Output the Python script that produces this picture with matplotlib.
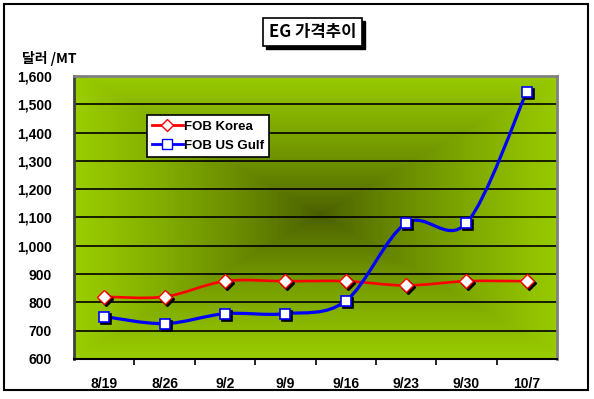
import numpy as np
import matplotlib
matplotlib.use("Agg")
import matplotlib.pyplot as plt
from matplotlib.path import Path
from matplotlib.patches import PathPatch, Rectangle
from matplotlib.lines import Line2D
import matplotlib.transforms as mtrans

plt.rcParams['font.family'] = ['Liberation Sans', 'Noto Sans CJK KR', 'DejaVu Sans']

# data
dates = ['8/19', '8/26', '9/2', '9/9', '9/16', '9/23', '9/30', '10/7']
fob_korea = [820, 820, 875, 875, 875, 860, 875, 875]
fob_usgulf = [750, 725, 760, 760, 805, 1080, 1080, 1545]
yticks = list(range(600, 1700, 100))

W, H = 594, 399
fig = plt.figure(figsize=(W / 100, H / 100), dpi=100)

def fx(px):
    return px / W

def fy(py):
    return 1 - py / H

# outer frame
fig.add_artist(Rectangle((fx(4), fy(390)), fx(588) - fx(4), fy(4) - fy(390),
                         transform=fig.transFigure, fill=False, ec='black', lw=1.5))

ax = fig.add_axes([fx(74), fy(359), fx(557) - fx(74), fy(76) - fy(359)])

# rectangular "from centre" gradient like Excel
n = 200
gx = np.linspace(-1, 1, n)
gy = np.linspace(-1, 1, n)
XX, YY = np.meshgrid(gx, gy)
d = np.maximum(np.abs(XX - 0.02), np.abs(YY + 0.02))
d = np.clip(d, 0, 1) ** 0.8
inner = np.array([72, 92, 0]) / 255
outer = np.array([153, 204, 0]) / 255
img = inner[None, None, :] * (1 - d[..., None]) + outer[None, None, :] * d[..., None]
ax.imshow(img, extent=[0, 1, 0, 1], transform=ax.transAxes, aspect='auto',
          zorder=0, interpolation='nearest')

ax.set_xlim(-0.5, len(dates) - 0.5)
ax.set_ylim(600, 1600)

for v in yticks[1:-1]:
    ax.axhline(v, color='black', lw=1.2, zorder=1)

def smooth_path(ys):
    xs = np.arange(len(ys), dtype=float)
    pts = np.column_stack([xs, np.array(ys, dtype=float)])
    verts = [pts[0]]
    codes = [Path.MOVETO]
    for i in range(len(pts) - 1):
        p0 = pts[i - 1] if i > 0 else pts[i]
        p1 = pts[i]
        p2 = pts[i + 1]
        p3 = pts[i + 2] if i + 2 < len(pts) else pts[i + 1]
        c1 = p1 + (p2 - p0) / 6
        c2 = p2 - (p3 - p1) / 6
        verts += [c1, c2, p2]
        codes += [Path.CURVE4] * 3
    return Path(verts, codes)

x = np.arange(len(dates))
shadow = mtrans.offset_copy(ax.transData, fig=fig, x=2, y=-2, units='dots')

ax.add_patch(PathPatch(smooth_path(fob_korea), fill=False, ec='#ff0000', lw=1.9, zorder=3,
                       capstyle='butt'))
ax.add_patch(PathPatch(smooth_path(fob_usgulf), fill=False, ec='#0000ff', lw=2.3, zorder=3,
                       capstyle='butt'))

ax.plot(x, fob_korea, ls='none', marker='D', ms=7, mfc='black', mec='black', mew=1,
        transform=shadow, zorder=4)
ax.plot(x, fob_korea, ls='none', marker='D', ms=7, mfc='white', mec='#ff0000', mew=1,
        zorder=5)
ax.plot(x, fob_usgulf, ls='none', marker='s', ms=7.5, mfc='black', mec='black', mew=1.2,
        transform=shadow, zorder=4)
ax.plot(x, fob_usgulf, ls='none', marker='s', ms=7.5, mfc='white', mec='#0000ff', mew=1.2,
        zorder=5)

# axes styling
for s in ['top', 'right']:
    ax.spines[s].set_color('#808080')
    ax.spines[s].set_linewidth(2)
ax.spines['left'].set_color('#404040')
ax.spines['left'].set_linewidth(2)
ax.spines['bottom'].set_color('black')
ax.spines['bottom'].set_linewidth(1.5)

ax.set_yticks(yticks)
ax.set_yticklabels([f'{v:,}' for v in yticks], fontsize=10, fontweight='bold')
ax.tick_params(axis='y', length=0, pad=16)
ax.set_xticks(x)
ax.set_xticklabels(dates, fontsize=10, fontweight='bold')
ax.tick_params(axis='x', which='major', length=0, pad=13)
ax.set_xticks(np.arange(0.5, len(dates) - 0.5, 1), minor=True)
ax.tick_params(axis='x', which='minor', length=4, width=1.2, direction='out', color='black')

# legend
handles = [
    Line2D([], [], color='#ff0000', lw=2, marker='D', ms=6, mfc='white', mec='#ff0000'),
    Line2D([], [], color='#0000ff', lw=2, marker='s', ms=6.5, mfc='white', mec='#0000ff'),
]
leg = ax.legend(handles, ['FOB Korea', 'FOB US Gulf'], loc='upper left',
                bbox_to_anchor=(fx(147), fy(115)), bbox_transform=fig.transFigure,
                frameon=True, fancybox=False, framealpha=1, edgecolor='black',
                prop={'weight': 'bold', 'size': 9.5}, handlelength=2.3, handletextpad=0.1,
                borderpad=0.4, labelspacing=0.55, borderaxespad=0)
leg.get_frame().set_linewidth(1.2)
leg.set_zorder(10)

# title box with shadow
fig.add_artist(Rectangle((fx(266), fy(49)), fx(362) - fx(263), fy(18) - fy(46),
                         transform=fig.transFigure, fc='black', ec='black', lw=1))
fig.add_artist(Rectangle((fx(263), fy(46)), fx(362) - fx(263), fy(18) - fy(46),
                         transform=fig.transFigure, fc='white', ec='black', lw=1.2))
fig.text(fx(312.5), fy(32), 'EG 가격추이', ha='center', va='center', fontsize=12,
         fontweight='bold', family=['Noto Sans CJK KR', 'DejaVu Sans'])

fig.text(fx(22), fy(59), '달러 /MT', ha='left', va='center', fontsize=10,
         fontweight='bold', family=['Noto Sans CJK KR', 'DejaVu Sans'])

fig.savefig('out.png', dpi=100)
